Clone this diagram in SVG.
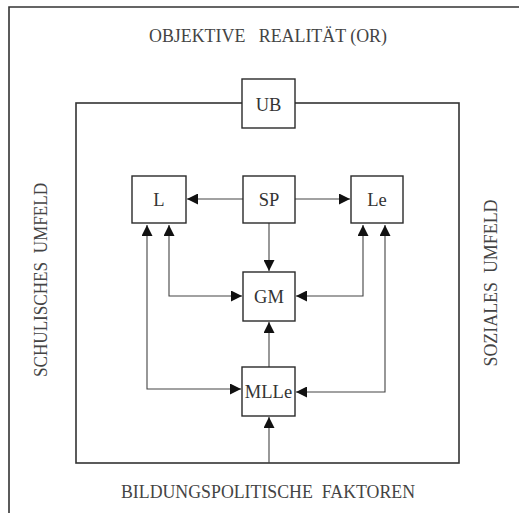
<svg xmlns="http://www.w3.org/2000/svg" width="519" height="513" viewBox="0 0 519 513">
<style>
.frame{fill:none;stroke:#333;stroke-width:1.6}
.box{fill:#fff;stroke:#2a2a2a;stroke-width:1.4}
.con{fill:none;stroke:#444;stroke-width:1.1}
.t{font-family:"Liberation Serif","Times New Roman",serif;fill:#333;font-size:18.5px;text-anchor:middle}
.lab{font-family:"Liberation Serif","Times New Roman",serif;fill:#444;font-size:19.5px;text-anchor:middle}
</style>
<defs>
<marker id="ah" viewBox="0 0 10 10" refX="10" refY="5" markerWidth="11" markerHeight="11" markerUnits="userSpaceOnUse" orient="auto-start-reverse">
<path d="M0,0 L10,5 L0,10 Z" fill="#111"/>
</marker>
</defs>
<rect width="519" height="513" fill="#fff"/>
<g id="outer">
<path class="frame" d="M9,513 V7 H519" stroke="#555" stroke-width="1.3"/>
</g>
<g id="inner-frame">
<rect class="frame" x="76" y="103" width="383" height="360" stroke-width="1.8"/>
</g>
<g id="labels">
<text class="lab" x="268" y="42" textLength="238" lengthAdjust="spacingAndGlyphs" xml:space="preserve">OBJEKTIVE   REALITÄT (OR)</text>
<text class="lab" x="268" y="498" textLength="294" lengthAdjust="spacingAndGlyphs" xml:space="preserve">BILDUNGSPOLITISCHE  FAKTOREN</text>
<text class="lab" transform="translate(47,280) rotate(-90)" textLength="194" lengthAdjust="spacingAndGlyphs" xml:space="preserve">SCHULISCHES  UMFELD</text>
<text class="lab" transform="translate(497,283) rotate(-90)" textLength="167" lengthAdjust="spacingAndGlyphs" xml:space="preserve">SOZIALES  UMFELD</text>
</g>
<g id="connectors">
<path class="con" d="M243,199 H187" marker-end="url(#ah)"/>
<path class="con" d="M295,199 H350" marker-end="url(#ah)"/>
<path class="con" d="M269,223 V271" marker-end="url(#ah)"/>
<path class="con" d="M169,225 V296 H242" marker-start="url(#ah)" marker-end="url(#ah)"/>
<path class="con" d="M147,225 V389 H241" marker-start="url(#ah)" marker-end="url(#ah)"/>
<path class="con" d="M363,225 V296 H296" marker-start="url(#ah)" marker-end="url(#ah)"/>
<path class="con" d="M385,225 V392 H296" marker-start="url(#ah)" marker-end="url(#ah)"/>
<path class="con" d="M269,367 V322" marker-end="url(#ah)"/>
<path class="con" d="M269,463 V417" marker-end="url(#ah)"/>
</g>
<g id="UB">
<rect class="box" x="242" y="79" width="53" height="49"/>
<text class="t" x="268.5" y="111">UB</text>
</g>
<g id="L">
<rect class="box" x="132" y="176" width="54" height="47"/>
<text class="t" x="159" y="206">L</text>
</g>
<g id="SP">
<rect class="box" x="243" y="176" width="52" height="47"/>
<text class="t" x="269" y="206">SP</text>
</g>
<g id="Le">
<rect class="box" x="351" y="176" width="52" height="47"/>
<text class="t" x="377" y="206">Le</text>
</g>
<g id="GM">
<rect class="box" x="243" y="272" width="52" height="49"/>
<text class="t" x="269" y="303">GM</text>
</g>
<g id="MLLe">
<rect class="box" x="242" y="367" width="53" height="49"/>
<text class="t" x="268.5" y="398">MLLe</text>
</g>
</svg>
